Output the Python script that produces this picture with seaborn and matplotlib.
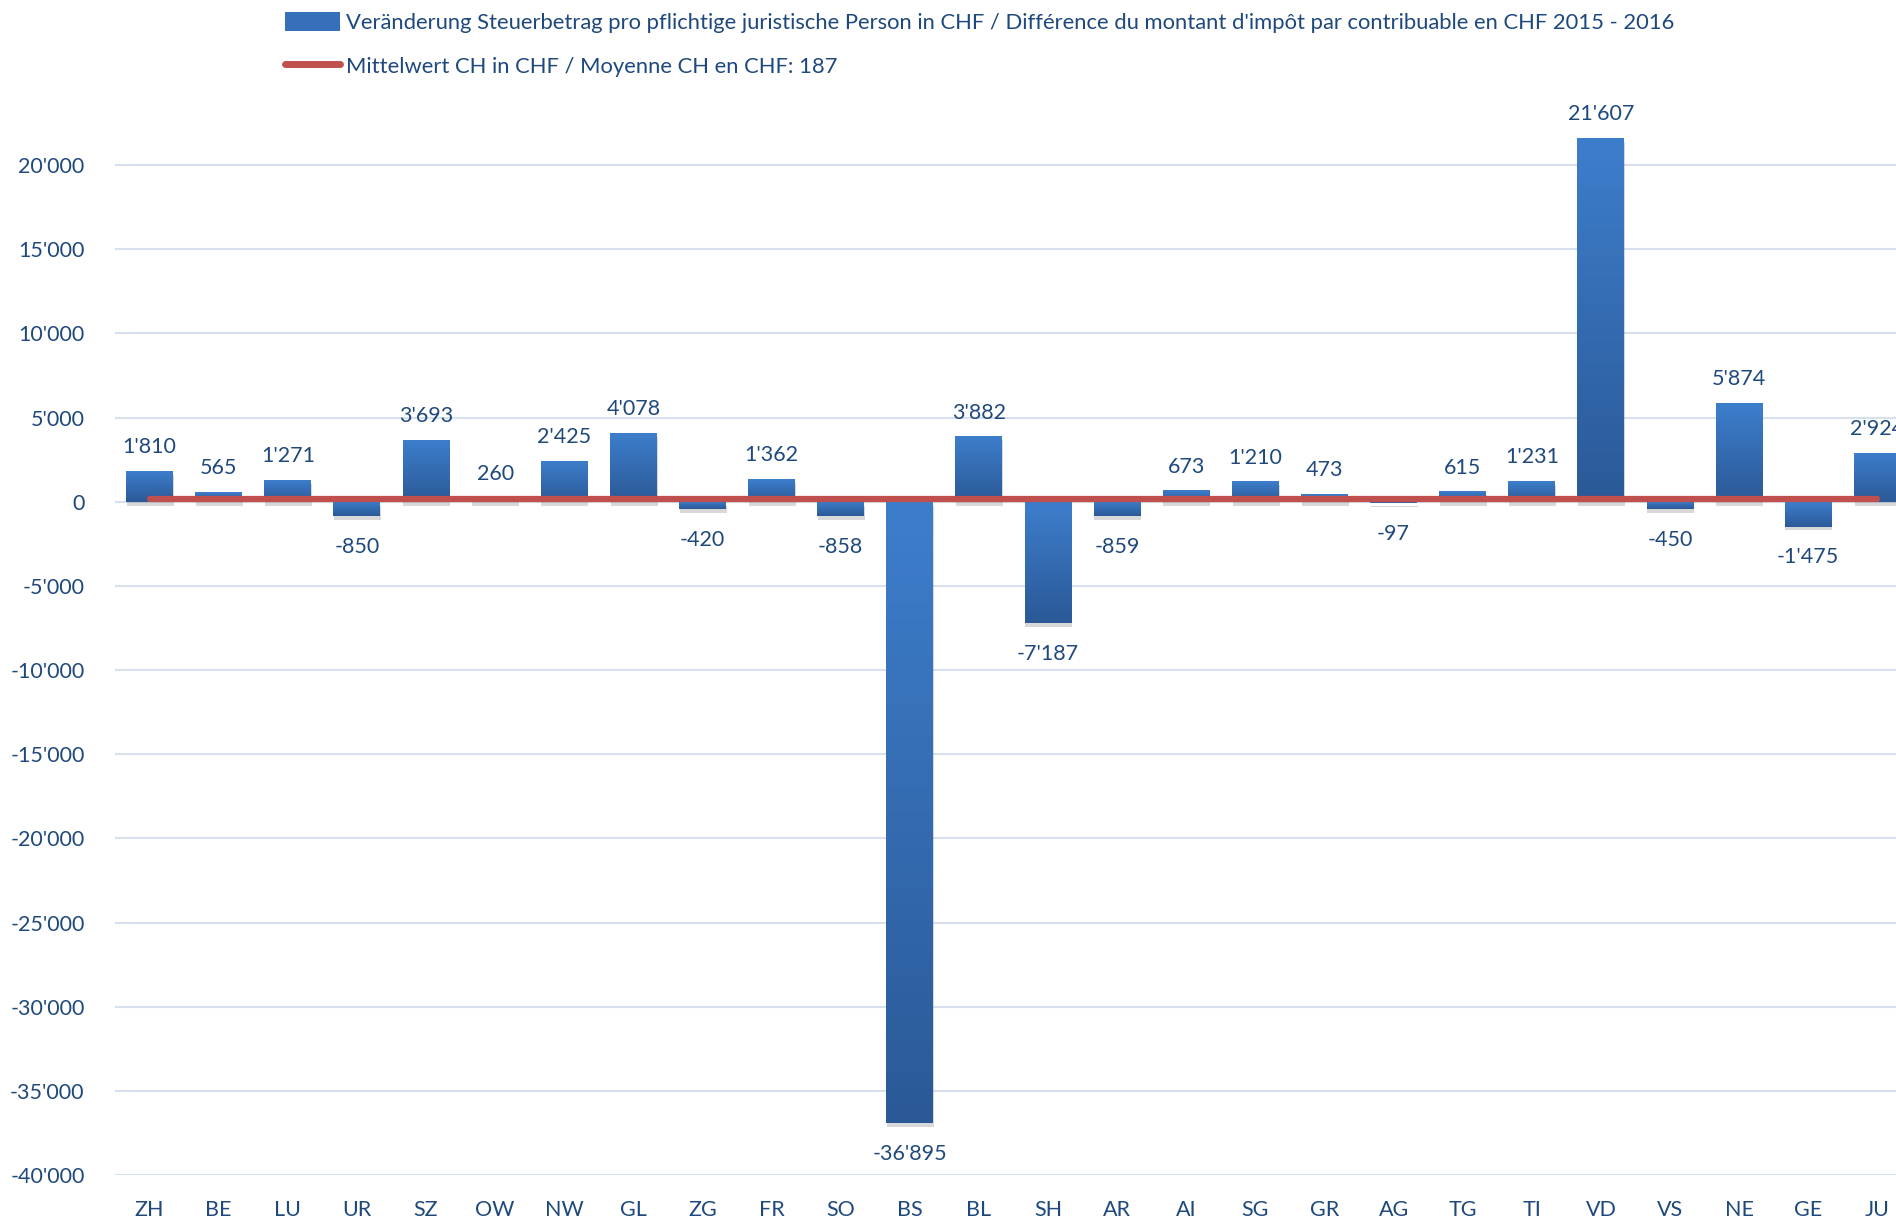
import matplotlib
matplotlib.use("Agg")
import matplotlib.pyplot as plt
import matplotlib.patches as mpatches
from matplotlib.lines import Line2D
from matplotlib.colors import LinearSegmentedColormap
import numpy as np
import pandas as pd
import seaborn as sns

cantons = ['ZH', 'BE', 'LU', 'UR', 'SZ', 'OW', 'NW', 'GL', 'ZG', 'FR', 'SO', 'BS', 'BL',
           'SH', 'AR', 'AI', 'SG', 'GR', 'AG', 'TG', 'TI', 'VD', 'VS', 'NE', 'GE', 'JU']
values = [1810, 565, 1271, -850, 3693, 260, 2425, 4078, -420, 1362, -858, -36895, 3882,
          -7187, -859, 673, 1210, 473, -97, 615, 1231, 21607, -450, 5874, -1475, 2924]
mean_ch = 187
bar_label = ("Veränderung Steuerbetrag pro pflichtige juristische Person in CHF / "
             "Différence du montant d'impôt par contribuable en CHF 2015 - 2016")
line_label = "Mittelwert CH in CHF / Moyenne CH en CHF: 187"
yticks = list(range(-40000, 20001, 5000))

df = pd.DataFrame({'canton': cantons, 'value': values})

TXT = '#1F497D'
TOP = '#3D7ECC'
BOT = '#2B5997'

sns.set_style('white')
plt.rcParams['font.family'] = ['Lato', 'DejaVu Sans']

fig = plt.figure(figsize=(18.96, 12.20), dpi=100)
ax = fig.add_axes([0.0607, 0.0369, 0.9393, 0.8967])

sns.barplot(data=df, x='canton', y='value', color=TOP, width=0.68, ax=ax, zorder=3)

# gradient fill + soft shadow for each bar
cmap = LinearSegmentedColormap.from_list('g', [TOP, BOT])
grad = np.linspace(0, 1, 256).reshape(-1, 1)
for p in ax.patches:
    x, y, w, h = p.get_x(), p.get_y(), p.get_width(), p.get_height()
    y0, y1 = min(y, y + h), max(y, y + h)
    p.set_facecolor('none')
    p.set_edgecolor('none')
    sh = mpatches.Rectangle((x + 0.01, y0 - 230), w, y1 - y0, color='#7F7F7F',
                            alpha=0.3, lw=0, zorder=2)
    ax.add_patch(sh)
    im = ax.imshow(grad, extent=[x, x + w, y0, y1], origin='upper', aspect='auto',
                   cmap=cmap, zorder=3)
    im.set_clip_path(p)

ax.set_xlim(-0.5, 25.27)
ax.set_ylim(-40000, 25000)

ax.plot([0, len(cantons) - 1], [mean_ch, mean_ch], color='#C0504D', lw=4.5,
        solid_capstyle='round', zorder=4)

fmt = lambda v: f"{v:,}".replace(",", "'")
bars = ax.containers[0]
pos_labels = [fmt(v) if v >= 0 else '' for v in values]
neg_labels = [fmt(v) if v < 0 else '' for v in values]
ax.bar_label(bars, labels=pos_labels, padding=10, fontsize=15.5, color=TXT)
ax.bar_label(bars, labels=neg_labels, padding=15, fontsize=15.5, color=TXT)

ax.set_yticks(yticks)
ax.set_yticklabels([fmt(v) for v in yticks])
ax.grid(axis='y', color='#D6E0EE', lw=1.5, zorder=0)
ax.set_axisbelow(True)
for s in ax.spines.values():
    s.set_visible(False)
ax.tick_params(axis='y', length=0, pad=22, labelsize=15.5, labelcolor=TXT)
ax.tick_params(axis='x', length=0, pad=18, labelsize=15.5, labelcolor=TXT)
ax.set_xlabel('')
ax.set_ylabel('')

handles = [mpatches.Patch(facecolor='#3670BA', edgecolor='none'),
           Line2D([0], [0], color='#C0504D', lw=5, solid_capstyle='round')]
fig.legend(handles, [bar_label, line_label], loc='upper left',
           bbox_to_anchor=(0.140, 1.006), frameon=False, fontsize=15.8,
           labelcolor=TXT, handlelength=2.5, handletextpad=0.25, labelspacing=1.05,
           handleheight=0.9)

fig.savefig('out.png', dpi=100)
